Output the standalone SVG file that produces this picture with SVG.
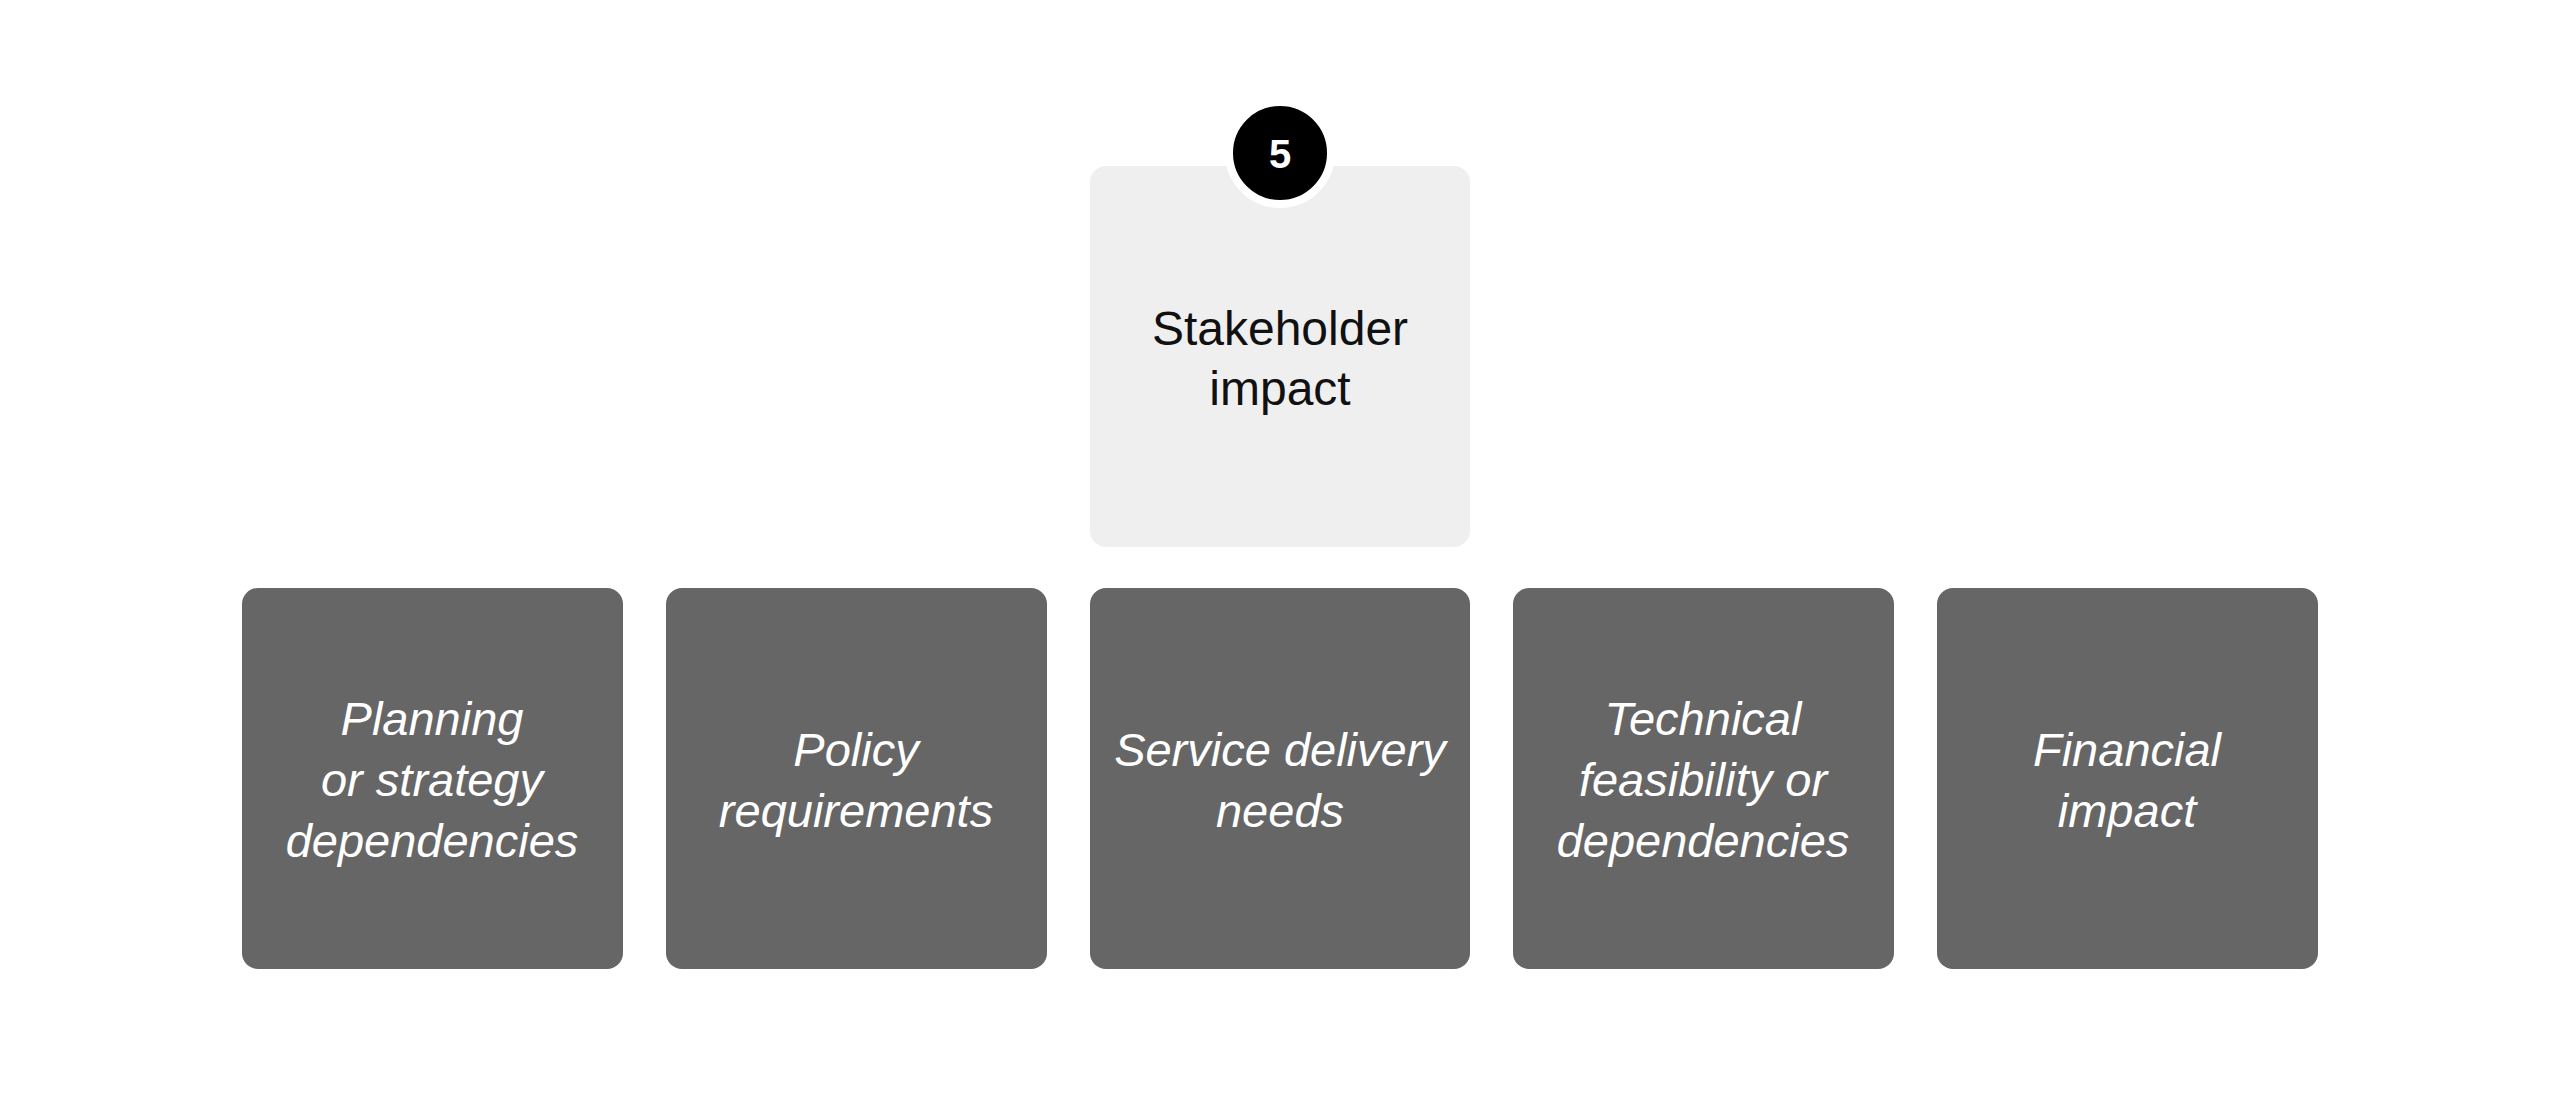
<svg xmlns="http://www.w3.org/2000/svg" width="2560" height="1110" viewBox="0 0 2560 1110">
<style>
.dark{fill:#666666}
.light{fill:#efefef}
.lbl{font-family:"Liberation Sans",Arial,sans-serif;font-style:italic;font-size:47px;fill:#ffffff;text-anchor:middle}
.top{font-family:"Liberation Sans",Arial,sans-serif;font-size:48px;fill:#111111;text-anchor:middle}
.num{font-family:"Liberation Sans",Arial,sans-serif;font-weight:bold;font-size:40px;fill:#ffffff;text-anchor:middle}
</style>
<rect width="2560" height="1110" fill="#ffffff"/>
<g id="connectors"></g>
<g id="stakeholder">
<rect class="light" x="1090" y="166" width="380" height="381" rx="16"/>
<text class="top" x="1280" y="345">Stakeholder</text>
<text class="top" x="1280" y="405">impact</text>
</g>
<g id="badge">
<circle cx="1280" cy="153" r="51" fill="#000000" stroke="#ffffff" stroke-width="8"/>
<text class="num" x="1280" y="168">5</text>
</g>
<g id="planning">
<rect class="dark" x="242" y="588" width="381" height="381" rx="16"/>
<text class="lbl" x="432" y="735">Planning</text>
<text class="lbl" x="432" y="796">or strategy</text>
<text class="lbl" x="432" y="857">dependencies</text>
</g>
<g id="policy">
<rect class="dark" x="666" y="588" width="381" height="381" rx="16"/>
<text class="lbl" x="856" y="766">Policy</text>
<text class="lbl" x="856" y="827">requirements</text>
</g>
<g id="service">
<rect class="dark" x="1090" y="588" width="380" height="381" rx="16"/>
<text class="lbl" x="1280" y="766">Service delivery</text>
<text class="lbl" x="1280" y="827">needs</text>
</g>
<g id="technical">
<rect class="dark" x="1513" y="588" width="381" height="381" rx="16"/>
<text class="lbl" x="1703" y="735">Technical</text>
<text class="lbl" x="1703" y="796">feasibility or</text>
<text class="lbl" x="1703" y="857">dependencies</text>
</g>
<g id="financial">
<rect class="dark" x="1937" y="588" width="381" height="381" rx="16"/>
<text class="lbl" x="2127" y="766">Financial</text>
<text class="lbl" x="2127" y="827">impact</text>
</g>
</svg>
